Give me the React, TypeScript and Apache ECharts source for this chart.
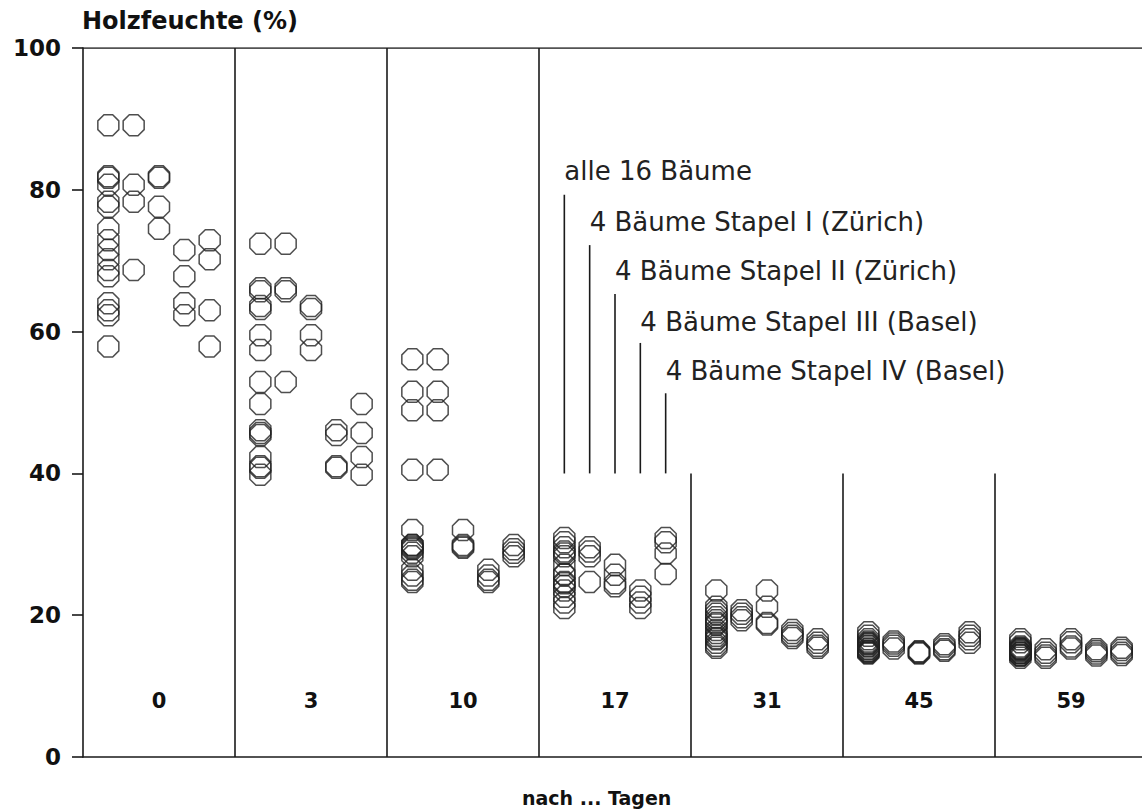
import React, { useEffect, useRef } from "react";
import * as echarts from "echarts";

// Days after felling (one group per day)
const days = ["0", "3", "10", "17", "31", "45", "59"];

// Wood moisture (%) of the 4 trees of each stack, per day
const stapelI = [
  [89.1, 80.7, 78.3, 68.7],
  [72.4, 66.1, 65.7, 52.9],
  [56.1, 51.5, 48.9, 40.5],
  [29.6, 29.0, 28.3, 24.7],
  [20.7, 20.2, 19.7, 19.3],
  [16.3, 16.0, 15.7, 15.3],
  [15.2, 14.7, 14.3, 14.0],
];
const stapelII = [
  [81.9, 81.7, 77.6, 74.5],
  [63.6, 63.2, 59.5, 57.4],
  [32.0, 29.9, 29.7, 29.5],
  [27.1, 25.7, 24.5, 24.1],
  [23.5, 21.2, 18.9, 18.7],
  [14.9, 14.8, 14.7, 14.6],
  [16.6, 16.2, 15.6, 15.3],
];
const stapelIII = [
  [71.5, 67.8, 64.0, 62.3],
  [46.1, 45.4, 41.0, 40.8],
  [26.4, 25.6, 25.0, 24.7],
  [23.5, 22.6, 21.8, 21.0],
  [17.9, 17.5, 17.1, 16.8],
  [15.9, 15.6, 15.2, 15.0],
  [15.2, 14.9, 14.6, 14.3],
];
const stapelIV = [
  [72.9, 70.2, 63.0, 57.9],
  [49.8, 45.7, 42.3, 39.8],
  [29.9, 29.3, 28.8, 28.3],
  [30.9, 30.3, 28.7, 25.8],
  [16.6, 16.1, 15.7, 15.4],
  [17.6, 17.1, 16.6, 16.1],
  [15.4, 15.1, 14.7, 14.4],
];

const columnLabels = [
  "alle 16 Bäume",
  "4 Bäume Stapel I (Zürich)",
  "4 Bäume Stapel II (Zürich)",
  "4 Bäume Stapel III (Basel)",
  "4 Bäume Stapel IV (Basel)",
];

const yTicks = [0, 20, 40, 60, 80, 100];

// annotation placement (in axis units) — layout only
const ANNOT_GROUP = 3;
const ANNOT_BASE = 40;
const annotLineTop = [79.3, 72.2, 65.3, 58.4, 51.3];
const annotTextY = [82.6, 75.5, 68.5, 61.4, 54.4];
const DAY_LABEL_Y = 7.9;
const SHORT_SEP_FROM = 4; // separators from this group on only go up to 40

const OCT =
  "path://M29.3 0L70.7 0L100 29.3L100 70.7L70.7 100L29.3 100L0 70.7L0 29.3Z";
const INK = "#1a1a1a";
const FONT = "DejaVu Sans";

export default function App() {
  const ref = useRef<HTMLDivElement>(null);

  useEffect(() => {
    if (!ref.current) return;
    const chart = echarts.init(ref.current, undefined, { renderer: "svg" });

    const stacks = [stapelI, stapelII, stapelIII, stapelIV];
    const points: number[][] = [];
    days.forEach((_, g) => {
      const all16 = stacks.flatMap((s) => s[g]);
      const cols = [all16, ...stacks.map((s) => s[g])];
      cols.forEach((vals, k) => {
        vals.forEach((v) => points.push([g + (k + 1) / 6, v]));
      });
    });

    const segments: number[][] = [];
    for (let g = 1; g < days.length; g++) {
      segments.push([g, 0, g >= SHORT_SEP_FROM ? 40 : 100]);
    }
    columnLabels.forEach((_, k) => {
      segments.push([ANNOT_GROUP + (k + 1) / 6, ANNOT_BASE, annotLineTop[k]]);
    });

    const annotTexts = columnLabels.map((t, k) => ({
      value: [ANNOT_GROUP + (k + 1) / 6, annotTextY[k]],
      name: t,
    }));

    const dayLabels = days.map((d, g) => ({ value: [g + 0.5, DAY_LABEL_Y], name: d }));

    chart.setOption({
      animation: false,
      backgroundColor: "#ffffff",
      grid: { left: 83, right: -5, top: 48, bottom: 54, containLabel: false, outerBoundsMode: "none" },
      xAxis: {
        type: "value",
        min: 0,
        max: days.length,
        axisLine: { show: true, lineStyle: { color: INK, width: 1.6 } },
        axisTick: { show: false },
        axisLabel: { show: false },
        splitLine: { show: false },
      },
      yAxis: {
        type: "value",
        min: yTicks[0],
        max: yTicks[yTicks.length - 1],
        interval: 20,
        axisLine: { show: true, lineStyle: { color: INK, width: 1.6 } },
        axisTick: { show: true, length: 11, lineStyle: { color: INK, width: 1.6 } },
        axisLabel: {
          margin: 22,
          color: "#111",
          fontFamily: FONT,
          fontWeight: "bold",
          fontSize: 23,
        },
        splitLine: { show: false },
      },
      graphic: [
        {
          type: "text",
          left: 82,
          top: 9,
          style: {
            text: "Holzfeuchte (%)",
            fill: "#111",
            font: `bold 24px "${FONT}"`,
          },
        },
        {
          type: "text",
          left: 522,
          top: 788,
          style: {
            text: "nach ... Tagen",
            fill: "#111",
            font: `bold 19px "${FONT}"`,
          },
        },
      ],
      series: [
        {
          type: "line",
          data: [
            [0, 100],
            [days.length, 100],
          ],
          symbol: "none",
          lineStyle: { color: INK, width: 1.6 },
          silent: true,
          z: 1,
        },
        {
          type: "custom",
          data: segments,
          encode: { x: 0, y: [1, 2] },
          z: 1,
          renderItem: (params: any, api: any) => {
            const p0 = api.coord([api.value(0), api.value(1)]);
            const p1 = api.coord([api.value(0), api.value(2)]);
            return {
              type: "line",
              shape: { x1: p0[0], y1: p0[1], x2: p1[0], y2: p1[1] },
              style: { stroke: INK, lineWidth: 1.6 },
            };
          },
        },
        {
          type: "custom",
          data: annotTexts,
          z: 3,
          renderItem: (params: any, api: any) => {
            const p = api.coord([api.value(0), api.value(1)]);
            return {
              type: "text",
              x: p[0],
              y: p[1],
              style: {
                text: columnLabels[params.dataIndex],
                fill: "#222",
                font: `26px "${FONT}"`,
                align: "left",
                verticalAlign: "middle",
              },
            };
          },
        },
        {
          type: "custom",
          data: dayLabels,
          z: 3,
          renderItem: (params: any, api: any) => {
            const p = api.coord([api.value(0), api.value(1)]);
            return {
              type: "text",
              x: p[0],
              y: p[1],
              style: {
                text: days[params.dataIndex],
                fill: "#111",
                font: `bold 21px "${FONT}"`,
                align: "center",
                verticalAlign: "middle",
              },
            };
          },
        },
        {
          type: "scatter",
          name: "Holzfeuchte",
          data: points,
          symbol: OCT,
          symbolSize: 21,
          symbolKeepAspect: true,
          itemStyle: {
            color: "rgba(255,255,255,0)",
            borderColor: "#222",
            borderWidth: 1.5,
          },
          z: 4,
        },
      ],
    });

    return () => chart.dispose();
  }, []);

  return (
    <div
      ref={ref}
      style={{ position: "absolute", left: 0, top: 0, width: 1142, height: 811, background: "#fff" }}
    />
  );
}
